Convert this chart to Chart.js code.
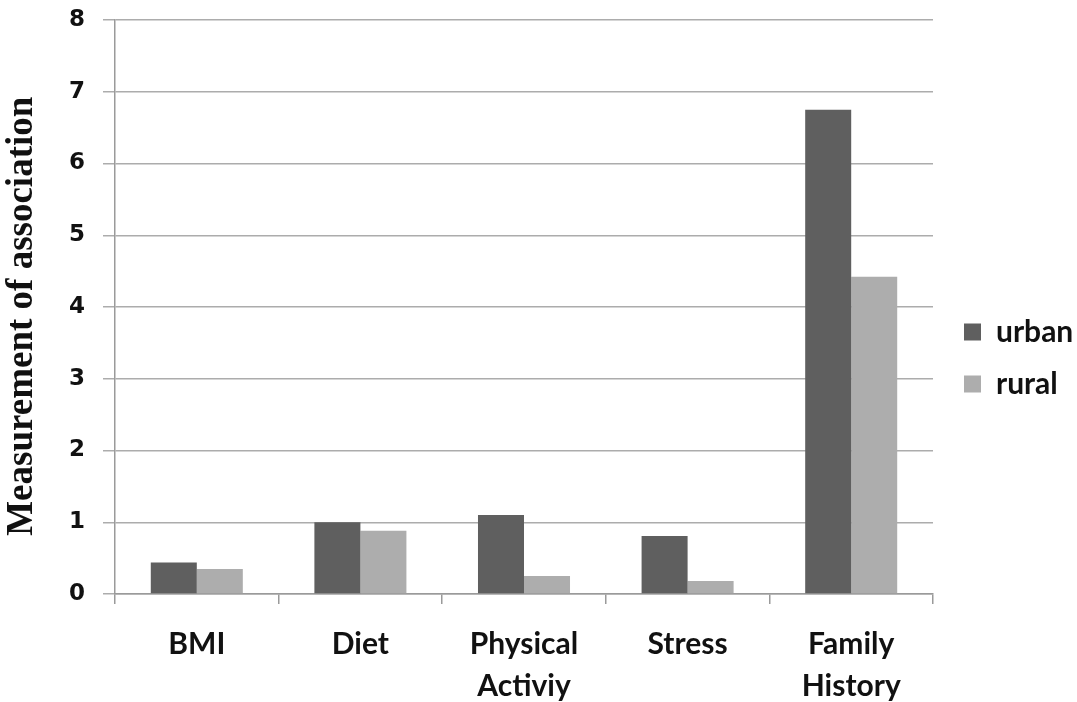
<!DOCTYPE html>
<html>
<head>
<meta charset="utf-8">
<title>Measurement of association: urban vs rural</title>
<script src="https://cdn.jsdelivr.net/npm/chart.js@4.4.1/dist/chart.umd.min.js"></script>
<style>
  html, body { margin: 0; padding: 0; background: #ffffff; }
  #wrap { width: 1077px; height: 702px; }
</style>
</head>
<body>
<div id="wrap"><canvas id="chart" width="1077" height="702"></canvas></div>
<script>
// Risk factors along the x axis
const categories = ['BMI', 'Diet', ['Physical', 'Activiy'], 'Stress', ['Family', 'History']];

// Measurement of association per risk factor
const urbanValues = [0.44, 1.0, 1.1, 0.81, 6.75];
const ruralValues = [0.35, 0.88, 0.25, 0.18, 4.42];

// Y axis range
const yTicks = [0, 1, 2, 3, 4, 5, 6, 7, 8];

const gridGray = '#acacac';
const axisGray = '#9a9a9a';
const inkColor = '#111111';

// Gives the right-hand legend a fixed column width and nudges its items
// toward the canvas edge.
const legendPlacement = {
  id: 'legendPlacement',
  beforeLayout(chart) {
    const legend = chart.legend;
    if (legend && !legend._fixedWidth) {
      const fit = legend.fit.bind(legend);
      legend.fit = function () {
        fit();
        this.width = 144;
      };
      legend._fixedWidth = true;
    }
  },
  afterLayout(chart) {
    const legend = chart.legend;
    if (!legend) return;
    legend.left += 9;
    legend.right += 9;
    legend.top -= 3;
    legend.bottom -= 3;
  }
};

new Chart(document.getElementById('chart'), {
  type: 'bar',
  data: {
    labels: categories,
    datasets: [
      {
        label: 'urban',
        data: urbanValues,
        backgroundColor: '#5f5f5f',
        borderWidth: 0,
        categoryPercentage: 0.5625,
        barPercentage: 1.0
      },
      {
        label: 'rural',
        data: ruralValues,
        backgroundColor: '#adadad',
        borderWidth: 0,
        categoryPercentage: 0.5625,
        barPercentage: 1.0
      }
    ]
  },
  plugins: [legendPlacement],
  options: {
    responsive: false,
    animation: false,
    devicePixelRatio: 1,
    layout: { padding: { top: 20, right: 0, bottom: 0, left: 0 } },
    plugins: {
      legend: {
        position: 'right',
        align: 'center',
        labels: {
          boxWidth: 17,
          boxHeight: 17,
          padding: 22,
          color: inkColor,
          font: { family: 'Lato', weight: 'bold', size: 30 }
        }
      },
      tooltip: { enabled: false },
      title: { display: false }
    },
    scales: {
      x: {
        offset: true,
        grid: {
          offset: true,
          drawOnChartArea: false,
          drawTicks: true,
          tickLength: 10,
          color: axisGray,
          lineWidth: 1.5
        },
        border: { color: axisGray, width: 1.5 },
        ticks: {
          color: inkColor,
          padding: 19,
          maxRotation: 0,
          autoSkip: false,
          font: { family: 'Lato', weight: 'bold', size: 30, lineHeight: 1.4 }
        },
        afterFit(scale) { scale.height = 108; }
      },
      y: {
        min: yTicks[0],
        max: yTicks[yTicks.length - 1],
        ticks: {
          stepSize: 1,
          color: inkColor,
          padding: 18,
          font: { family: 'DejaVu Sans', weight: 'bold', size: 23 }
        },
        grid: {
          color: gridGray,
          lineWidth: 1.5,
          drawTicks: true,
          tickLength: 12
        },
        border: { color: axisGray, width: 1.5 },
        title: {
          display: true,
          text: 'Measurement of association  ',
          color: inkColor,
          padding: { top: 0, bottom: 0 },
          font: { family: 'Liberation Serif', weight: 'bold', size: 37 }
        },
        afterFit(scale) {
          scale.width = 115;
          scale.paddingTop = 0;
          scale.paddingBottom = 0;
        }
      }
    }
  }
});
</script>
</body>
</html>
